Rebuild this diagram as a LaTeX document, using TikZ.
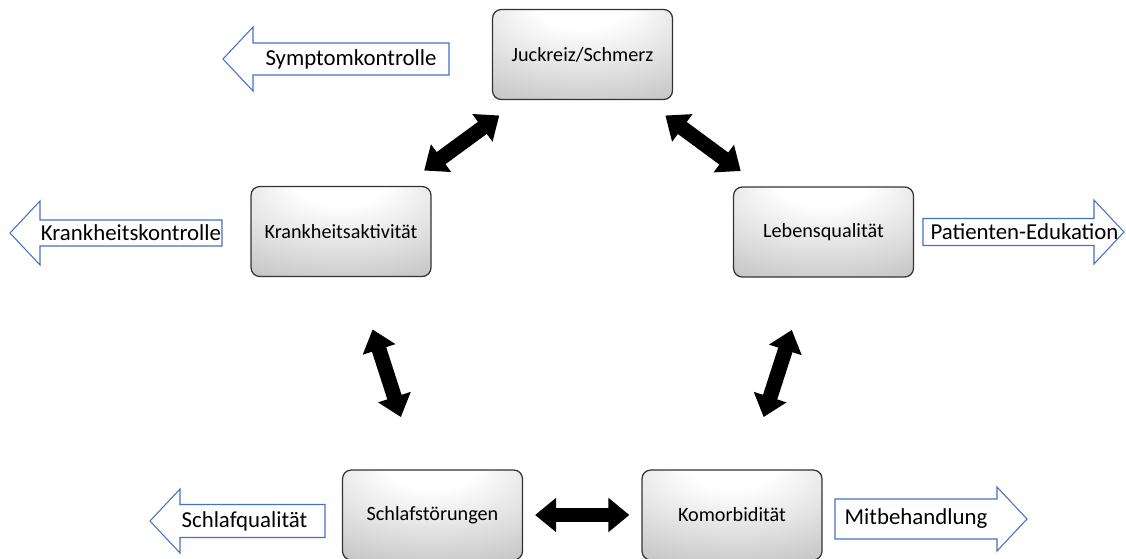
\documentclass[tikz,border=0pt]{standalone}
\usepackage{fontspec}
\setmainfont{Carlito}
\usetikzlibrary{arrows.meta}
\definecolor{noteblue}{RGB}{68,114,196}
\pgfdeclareradialshading{boxglow}{\pgfpoint{0bp}{30bp}}{color(0bp)=(white); color(12bp)=(white); color(62bp)=(black!32); color(100bp)=(black!32)}
\tikzset{
factor/.style = { rectangle, draw = black!80, line width = 0.7pt, shading = boxglow, rounded corners = 5pt, minimum width = 3.6cm, minimum height = 1.8cm, font = \fontsize{11.5}{14}\selectfont },
link/.style = { line width = 8.5pt, {Triangle[width = 0.66cm, length = 0.42cm]}-{Triangle[width = 0.66cm, length = 0.42cm]} },
}
\tikzset{
pics/left note/.style args={#1, #2, #3}{
        code = {
        \path[draw = noteblue, fill = white, line width = 0.6pt] (0, 0) -- (30, -32) -- (30, -#3) -- (30 + #2, -#3) -- (30 + #2, #3) -- (30, #3) -- (30, 32) -- cycle;
        \node[black, inner sep = 0pt, font = \fontsize{13}{15}\selectfont] (-txt) at (30 + #2 / 2, 0) {#1};
        }
    },
pics/right note/.style args={#1, #2, #3}{
        code = {
        \path[draw = noteblue, fill = white, line width = 0.6pt] (0, 0) -- (-30, -32) -- (-30, -#3) -- (-30 - #2, -#3) -- (-30 - #2, #3) -- (-30, #3) -- (-30, 32) -- cycle;
        \node[black, inner sep = 0pt, font = \fontsize{13}{15}\selectfont] (-txt) at (-30 - #2 / 2, 0) {#1};
        }
    }
}

\begin{document}
\begin{tikzpicture}[x = 0.02cm, y = -0.02cm]
    \useasboundingbox (0, 0) rectangle (1126, 558);
    \node[factor] (juck) at (582.5, 54.5) {Juckreiz/Schmerz};
    \node[factor] (krank) at (341, 231.5) {Krankheitsaktivität};
    \node[factor] (leben) at (823.5, 232) {Lebensqualität};
    \node[factor] (schlaf) at (432.5, 515) {Schlafstörungen};
    \node[factor] (komorb) at (732, 515) {Komorbidität};
    \draw (223, 59) pic (sym) {left note = {Symptomkontrolle, 196, 16}};
    \draw (10, 233) pic (kon) {left note = {Krankheitskontrolle, 182, 13}};
    \draw (150, 521) pic (qual) [every node/.append style = {xshift = -0.16cm}] {left note = {Schlafqualität, 145, 16.5}};
    \draw (1124, 232) pic (edu) [every node/.append style = {xshift = 0.32cm}] {right note = {Patienten-Edukation, 171, 13.5}};
    \draw (1027, 519) pic (mit) {right note = {Mitbehandlung, 162, 20}};
    \draw[link, shorten <= 0.52cm, shorten >= 0.52cm] (juck) -- (krank);
    \draw[link, shorten <= 0.52cm, shorten >= 0.52cm] (juck) -- (leben);
    \draw[link, shorten <= 1.1cm, shorten >= 1.1cm] (krank) -- (schlaf);
    \draw[link, shorten <= 1.1cm, shorten >= 1.1cm] (leben) -- (komorb);
    \draw[link, shorten <= 0.24cm, shorten >= 0.24cm] (schlaf) -- (komorb);
  \end{tikzpicture}
\end{document}
